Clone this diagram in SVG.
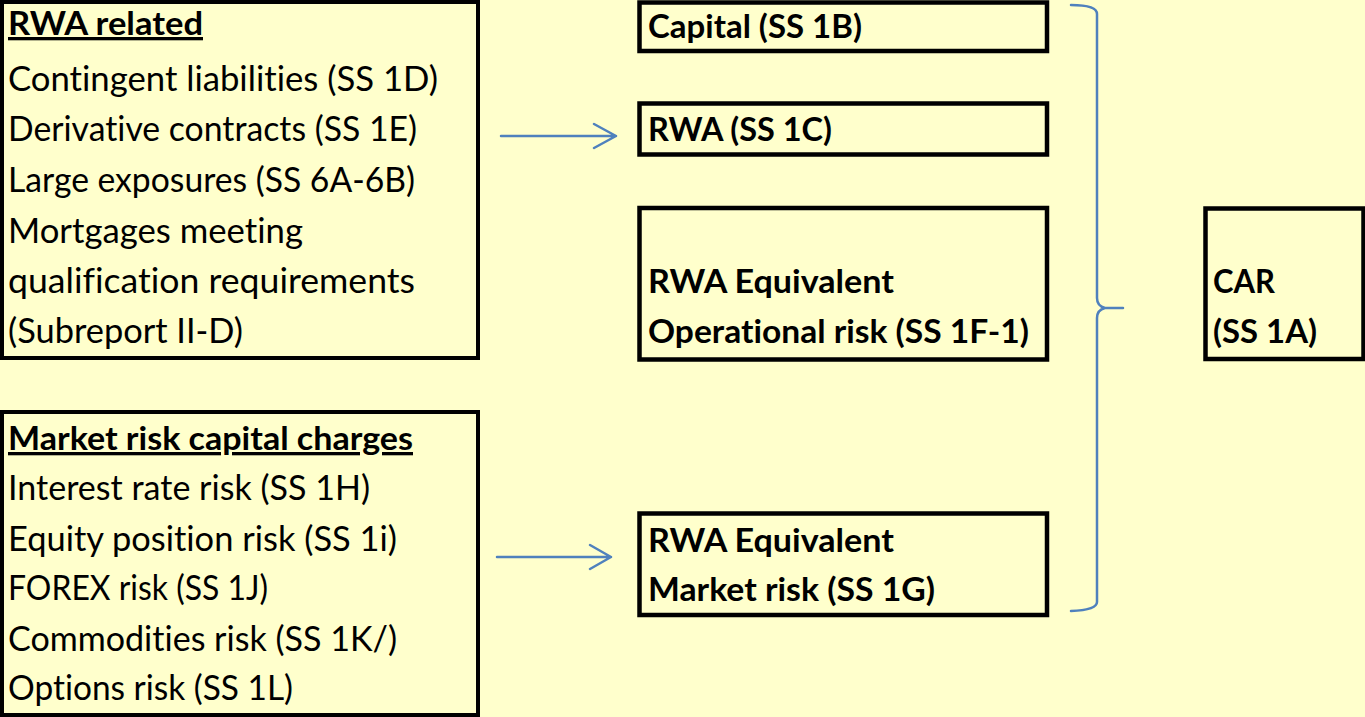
<svg xmlns="http://www.w3.org/2000/svg" width="1365" height="717" viewBox="0 0 1365 717">
<defs>
<style>
.box{fill:#FFFFCC;stroke:#000;stroke-width:4.5}
.lbox{fill:#FFFFCC;stroke:#000;stroke-width:4}
text{font-variant-ligatures:none;font-feature-settings:"liga" 0,"clig" 0,"dlig" 0}
.t{font-family:Lato,"Liberation Sans",sans-serif;font-size:34px;fill:#000}
.h{font-family:Lato,"Liberation Sans",sans-serif;font-size:33px;font-weight:bold;fill:#000;text-decoration:underline}
.b{font-family:Lato,"Liberation Sans",sans-serif;font-size:32px;font-weight:bold;fill:#000}
.conn{fill:none;stroke:#4F81BD;stroke-width:2.5;stroke-linecap:round;stroke-linejoin:round}
</style>
</defs>
<rect width="1365" height="717" fill="#FFFFCC"/>
<g id="rwa-related">
<rect class="lbox" x="2" y="2" width="476" height="356"/>
<text class="h" x="8" y="35" textLength="195" lengthAdjust="spacingAndGlyphs">RWA related</text>
<text class="t" x="8" y="91" textLength="430" lengthAdjust="spacingAndGlyphs">Contingent liabilities (SS 1D)</text>
<text class="t" x="8" y="141" textLength="409" lengthAdjust="spacingAndGlyphs">Derivative contracts (SS 1E)</text>
<text class="t" x="8" y="192" textLength="407" lengthAdjust="spacingAndGlyphs">Large exposures (SS 6A-6B)</text>
<text class="t" x="8" y="243" textLength="295" lengthAdjust="spacingAndGlyphs">Mortgages meeting</text>
<text class="t" x="8" y="293" textLength="407" lengthAdjust="spacingAndGlyphs">qualification requirements</text>
<text class="t" x="8" y="343" textLength="235" lengthAdjust="spacingAndGlyphs">(Subreport II-D)</text>
</g>
<g id="market-risk-charges">
<rect class="lbox" x="2" y="412" width="476" height="303"/>
<text class="h" x="8" y="450" textLength="405" lengthAdjust="spacingAndGlyphs">Market risk capital charges</text>
<text class="t" x="8" y="500" textLength="362" lengthAdjust="spacingAndGlyphs">Interest rate risk (SS 1H)</text>
<text class="t" x="8" y="551" textLength="389" lengthAdjust="spacingAndGlyphs">Equity position risk (SS 1i)</text>
<text class="t" x="8" y="600" textLength="260" lengthAdjust="spacingAndGlyphs">FOREX risk (SS 1J)</text>
<text class="t" x="8" y="651" textLength="389" lengthAdjust="spacingAndGlyphs">Commodities risk (SS 1K/)</text>
<text class="t" x="8" y="700" textLength="285" lengthAdjust="spacingAndGlyphs">Options risk (SS 1L)</text>
</g>
<g id="capital">
<rect class="box" x="639.5" y="2.5" width="407.5" height="48.5"/>
<text class="b" x="648" y="38" textLength="214" lengthAdjust="spacingAndGlyphs">Capital (SS 1B)</text>
</g>
<g id="rwa">
<rect class="box" x="639.5" y="103.5" width="407.5" height="51"/>
<text class="b" x="648" y="141" textLength="184" lengthAdjust="spacingAndGlyphs">RWA (SS 1C)</text>
</g>
<g id="rwa-operational">
<rect class="box" x="639.5" y="208" width="407.5" height="151.5"/>
<text class="b" x="648" y="293" textLength="246" lengthAdjust="spacingAndGlyphs">RWA Equivalent</text>
<text class="b" x="648" y="343" textLength="381" lengthAdjust="spacingAndGlyphs">Operational risk (SS 1F-1)</text>
</g>
<g id="rwa-market">
<rect class="box" x="639.5" y="513.5" width="407.5" height="101.5"/>
<text class="b" x="648" y="552" textLength="246" lengthAdjust="spacingAndGlyphs">RWA Equivalent</text>
<text class="b" x="648" y="601" textLength="287" lengthAdjust="spacingAndGlyphs">Market risk (SS 1G)</text>
</g>
<g id="car">
<rect class="box" x="1205.5" y="208.5" width="158" height="150.5"/>
<text class="b" x="1213" y="293" textLength="62" lengthAdjust="spacingAndGlyphs">CAR</text>
<text class="b" x="1213" y="343" textLength="104" lengthAdjust="spacingAndGlyphs">(SS 1A)</text>
</g>
<g id="connectors">
<path class="conn" d="M501,136 L616,136 M594,124 L616,136 L594,148"/>
<path class="conn" d="M497,557 L611,557 M590,545 L611,557 L590,569"/>
<path class="conn" d="M1071,5 Q1097,5 1097,14 L1097,298 Q1097,306 1105,308 L1123,308 L1105,308 Q1097,310 1097,318 L1097,602 Q1097,610 1071,611"/>
</g>
</svg>
